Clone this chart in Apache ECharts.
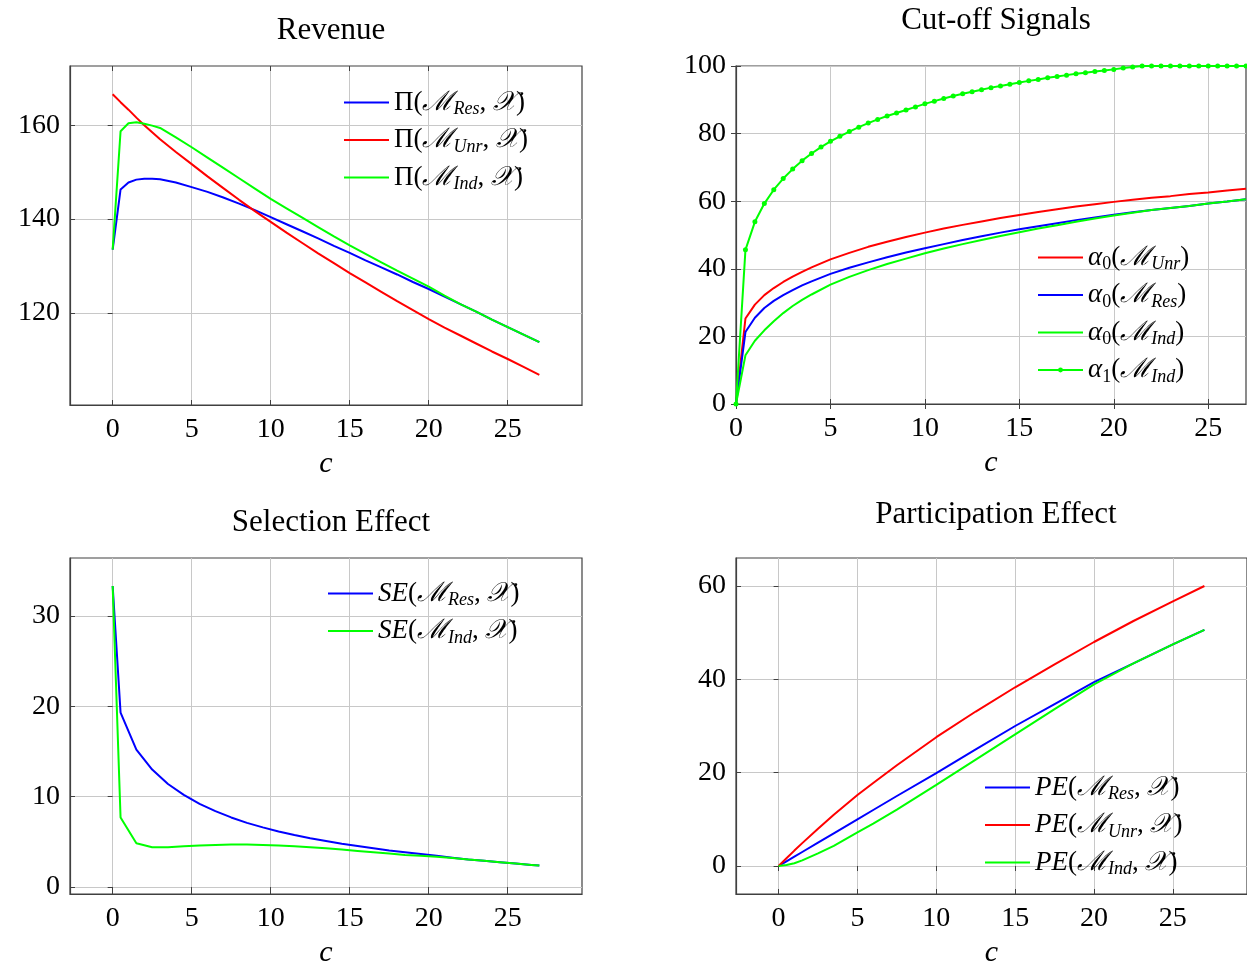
<!DOCTYPE html>
<html>
<head>
<meta charset="UTF-8">
<title>Revenue, cut-off signals, selection and participation effects</title>
<script src="https://cdn.jsdelivr.net/npm/echarts@6/dist/echarts.min.js"></script>
<style>
  html, body { margin: 0; padding: 0; background: #fff; }
  #chart { width: 1247px; height: 969px; }
</style>
</head>
<body>
<div id="chart"></div>
<script>
// ---- Revenue ----
var revX   = [0, 0.5, 1, 1.5, 2, 2.5, 3, 4, 5, 6, 7, 8, 9, 10, 11, 12, 13, 14, 15, 16, 17, 18, 19, 20, 21, 22, 23, 24, 25, 26, 27];
var revRes = [133.5, 146.3, 147.8, 148.4, 148.6, 148.6, 148.5, 147.8, 146.8, 145.8, 144.6, 143.3, 141.9, 140.4, 138.9, 137.4, 135.9, 134.3, 132.8, 131.2, 129.7, 128.2, 126.6, 125.1, 123.5, 121.9, 120.3, 118.6, 117.0, 115.4, 113.8];
var revUnr = [166.6, 164.9, 163.3, 161.6, 160.0, 158.5, 157.0, 154.3, 151.7, 149.1, 146.6, 144.1, 141.7, 139.4, 137.1, 134.9, 132.7, 130.6, 128.5, 126.5, 124.5, 122.5, 120.6, 118.7, 116.9, 115.2, 113.5, 111.8, 110.2, 108.5, 106.8];
var revInd = [133.5, 158.7, 160.4, 160.6, 160.3, 159.9, 159.4, 157.4, 155.3, 153.1, 150.9, 148.7, 146.5, 144.3, 142.3, 140.3, 138.3, 136.3, 134.4, 132.6, 130.8, 129.0, 127.3, 125.6, 123.7, 121.9, 120.3, 118.6, 117.0, 115.4, 113.8];

// ---- Cut-off Signals ----
var cutX    = [0, 0.5, 1, 1.5, 2, 2.5, 3, 3.5, 4, 5, 6, 7, 8, 9, 10, 11, 12, 13, 14, 15, 16, 17, 18, 19, 20, 21, 22, 23, 24, 25, 26, 27];
var a0Unr   = [0, 25.3, 29.4, 32.2, 34.3, 36.1, 37.7, 39.1, 40.4, 42.8, 44.7, 46.5, 48.0, 49.4, 50.7, 51.9, 53.0, 54.0, 55.0, 55.9, 56.8, 57.6, 58.4, 59.1, 59.8, 60.4, 61.0, 61.5, 62.1, 62.6, 63.2, 63.7];
var a0Res   = [0, 21.3, 25.5, 28.4, 30.5, 32.2, 33.7, 35.1, 36.3, 38.5, 40.3, 41.9, 43.4, 44.8, 46.1, 47.3, 48.5, 49.6, 50.7, 51.7, 52.6, 53.5, 54.4, 55.2, 56.0, 56.7, 57.4, 58.0, 58.6, 59.3, 59.9, 60.6];
var a0Ind   = [0, 14.4, 18.7, 21.8, 24.5, 26.9, 29.0, 30.8, 32.4, 35.3, 37.6, 39.6, 41.4, 43.0, 44.6, 46.0, 47.3, 48.5, 49.7, 50.8, 51.9, 52.9, 53.9, 54.9, 55.8, 56.6, 57.4, 58.0, 58.6, 59.3, 59.9, 60.6];
var a1X     = [0, 0.5, 1, 1.5, 2, 2.5, 3, 3.5, 4, 4.5, 5, 5.5, 6, 6.5, 7, 7.5, 8, 8.5, 9, 9.5, 10, 10.5, 11, 11.5, 12, 12.5, 13, 13.5, 14, 14.5, 15, 15.5, 16, 16.5, 17, 17.5, 18, 18.5, 19, 19.5, 20, 20.5, 21, 21.5, 22, 22.5, 23, 23.5, 24, 24.5, 25, 25.5, 26, 26.5, 27];
var a1Ind   = [0, 45.6, 53.9, 59.3, 63.4, 66.7, 69.5, 72.0, 74.1, 76.0, 77.7, 79.2, 80.6, 81.9, 83.1, 84.2, 85.2, 86.1, 87.0, 87.9, 88.8, 89.6, 90.4, 91.1, 91.8, 92.4, 93.0, 93.6, 94.1, 94.6, 95.1, 95.6, 96.0, 96.5, 96.9, 97.3, 97.7, 98.0, 98.4, 98.7, 99.0, 99.4, 99.7, 100, 100, 100, 100, 100, 100, 100, 100, 100, 100, 100, 100];

// ---- Selection Effect ----
var seX   = [0, 0.5, 1.5, 2.5, 3.5, 4.5, 5.5, 6.5, 7.5, 8.5, 9.5, 10.5, 11.5, 12.5, 13.5, 14.5, 15.5, 16.5, 17.5, 18.5, 19.5, 20.5, 21.5, 22.5, 23.5, 24.5, 25.5, 26.5, 27];
var seRes = [33.3, 19.3, 15.2, 13.0, 11.4, 10.2, 9.2, 8.4, 7.7, 7.1, 6.6, 6.15, 5.75, 5.4, 5.1, 4.8, 4.55, 4.3, 4.05, 3.85, 3.65, 3.45, 3.25, 3.05, 2.9, 2.75, 2.6, 2.45, 2.37];
var seInd = [33.3, 7.7, 4.85, 4.4, 4.4, 4.5, 4.6, 4.65, 4.7, 4.7, 4.65, 4.6, 4.5, 4.4, 4.3, 4.15, 4.0, 3.85, 3.7, 3.55, 3.45, 3.35, 3.2, 3.05, 2.9, 2.75, 2.6, 2.45, 2.37];

// ---- Participation Effect ----
var peX   = [0, 0.5, 1, 1.5, 2.5, 3.5, 5, 6, 7.5, 10, 12.5, 15, 17.5, 20, 22.5, 25, 27];
var peRes = [0, 1.0, 2.0, 3.0, 5.0, 7.0, 10.0, 12.0, 15.0, 19.9, 25.0, 30.0, 34.7, 39.4, 43.4, 47.5, 50.6];
var peUnr = [0, 1.65, 3.3, 4.9, 8.0, 11.0, 15.2, 17.8, 21.6, 27.6, 33.1, 38.3, 43.2, 48.0, 52.5, 56.7, 60.0];
var peInd = [0, 0.2, 0.6, 1.2, 2.7, 4.3, 7.2, 9.1, 12.1, 17.4, 22.8, 28.2, 33.6, 38.9, 43.4, 47.5, 50.6];

// tick labels
var cTicks   = [0, 5, 10, 15, 20, 25];
var revTicks = [120, 140, 160];
var cutTicks = [0, 20, 40, 60, 80, 100];
var seTicks  = [0, 10, 20, 30];
var peTicks  = [0, 20, 40, 60];

var SERIF = '"Liberation Serif", "DejaVu Serif", serif';
var FRAME = '#404040';
var GRIDC = '#c8c8c8';
var BLUE = '#0000ff', RED = '#ff0000', GREEN = '#00ff00';

function pairs(xs, ys) {
    return xs.map(function (x, i) { return [x, ys[i]]; });
}

// legend text, built as rich text
var rich = {
    t:  { fontFamily: SERIF, fontSize: 27, lineHeight: 32, color: '#000' },
    i:  { fontFamily: SERIF, fontSize: 27, lineHeight: 32, fontStyle: 'italic', color: '#000' },
    m:  { fontFamily: SERIF, fontSize: 27, lineHeight: 32, fontStyle: 'italic', color: '#000' },
    s:  { fontFamily: SERIF, fontSize: 18, lineHeight: 16, fontStyle: 'italic', verticalAlign: 'bottom', color: '#000' },
    n:  { fontFamily: SERIF, fontSize: 18, lineHeight: 16, verticalAlign: 'bottom', color: '#000' }
};
function lbl(head, headSub, model, withX) {
    var s = head;
    if (headSub) s += '{n|' + headSub + '}';
    s += '{t|(}{m|ℳ}{s|' + model + '}';
    if (withX) s += '{t|, }{m|𝒳}';
    return s + '{t|)}';
}
var names = {
    revRes: lbl('{t|Π}', '', 'Res', true),
    revUnr: lbl('{t|Π}', '', 'Unr', true),
    revInd: lbl('{t|Π}', '', 'Ind', true),
    a0Unr:  lbl('{i|α}', '0', 'Unr', false),
    a0Res:  lbl('{i|α}', '0', 'Res', false),
    a0Ind:  lbl('{i|α}', '0', 'Ind', false),
    a1Ind:  lbl('{i|α}', '1', 'Ind', false),
    seRes:  lbl('{i|SE}', '', 'Res', true),
    seInd:  lbl('{i|SE}', '', 'Ind', true),
    peRes:  lbl('{i|PE}', '', 'Res', true),
    peUnr:  lbl('{i|PE}', '', 'Unr', true),
    peInd:  lbl('{i|PE}', '', 'Ind', true)
};

function xAxes(g, min, max) {
    return [{
        type: 'value', gridIndex: g, min: min, max: max, position: 'bottom',
        name: 'c', nameLocation: 'middle', nameGap: 44,
        nameTextStyle: { fontFamily: SERIF, fontStyle: 'italic', fontSize: 30, color: '#000' },
        axisLine: { show: true, onZero: false, lineStyle: { color: FRAME, width: 1.2 } },
        axisTick: { show: true, inside: true, length: 5, customValues: cTicks, lineStyle: { color: FRAME } },
        axisLabel: { fontFamily: SERIF, fontSize: 28, color: '#000', margin: 11, customValues: cTicks },
        splitLine: { show: true, lineStyle: { color: GRIDC, width: 1 } }
    }, {
        type: 'value', gridIndex: g, min: min, max: max, position: 'top',
        axisLine: { show: false },
        axisTick: { show: true, inside: true, length: 5, customValues: cTicks, lineStyle: { color: FRAME } },
        axisLabel: { show: false },
        splitLine: { show: false }
    }];
}
function yAxes(g, min, max, ticks) {
    return [{
        type: 'value', gridIndex: g, min: min, max: max, position: 'left',
        axisLine: { show: true, onZero: false, lineStyle: { color: FRAME, width: 1.2 } },
        axisTick: { show: true, inside: true, length: 5, customValues: ticks, lineStyle: { color: FRAME } },
        axisLabel: { fontFamily: SERIF, fontSize: 28, color: '#000', margin: 10, customValues: ticks },
        splitLine: { show: true, lineStyle: { color: GRIDC, width: 1 } }
    }, {
        type: 'value', gridIndex: g, min: min, max: max, position: 'right',
        axisLine: { show: false },
        axisTick: { show: true, inside: true, length: 5, customValues: ticks, lineStyle: { color: FRAME } },
        axisLabel: { show: false },
        splitLine: { show: false }
    }];
}

function line(key, g, xs, ys, color, marked) {
    return {
        name: key, type: 'line', xAxisIndex: 2 * g, yAxisIndex: 2 * g,
        data: pairs(xs, ys),
        symbol: marked ? 'circle' : 'none', symbolSize: 5, showSymbol: !!marked,
        lineStyle: { color: color, width: 2 },
        itemStyle: { color: color },
        animation: false
    };
}

// only the marked series keeps its dot in the legend
var marked = { a1Ind: true };
function legend(keys, left, top) {
    return {
        data: keys.map(function (k) {
            return marked[k] ? { name: k } : { name: k, itemStyle: { opacity: 0 } };
        }),
        left: left, top: top, orient: 'vertical',
        itemWidth: 45, itemHeight: 6, itemGap: 8, selectedMode: false,
        formatter: function (n) { return names[n]; },
        textStyle: { rich: rich }
    };
}

function title(text, x, y) {
    return {
        text: text, left: x, top: y, textAlign: 'center',
        textStyle: { fontFamily: SERIF, fontSize: 31, fontWeight: 'normal', color: '#000' }
    };
}

var gridBox = { show: true, borderColor: FRAME, borderWidth: 1.2, backgroundColor: 'transparent' };

var option = {
    backgroundColor: '#fff',
    title: [
        title('Revenue', 326, 10),
        title('Cut-off Signals', 991, 0),
        title('Selection Effect', 326, 502),
        title('Participation Effect', 991, 494)
    ],
    grid: [
        Object.assign({ left: 70, top: 66, width: 512, height: 339 }, gridBox),
        Object.assign({ left: 736, top: 66, width: 510, height: 338 }, gridBox),
        Object.assign({ left: 70, top: 558, width: 512, height: 339 }, gridBox),
        Object.assign({ left: 736, top: 558, width: 512, height: 339 }, gridBox)
    ],
    xAxis: [].concat(
        xAxes(0, -2.7, 29.7),
        xAxes(1, 0, 27),
        xAxes(2, -2.7, 29.7),
        xAxes(3, -2.7, 29.7)
    ),
    yAxis: [].concat(
        yAxes(0, 100.4, 172.6, revTicks),
        yAxes(1, 0, 100, cutTicks),
        yAxes(2, -0.77, 36.4, seTicks),
        yAxes(3, -6, 66, peTicks)
    ),
    legend: [
        legend(['revRes', 'revUnr', 'revInd'], 338, 84),
        legend(['a0Unr', 'a0Res', 'a0Ind', 'a1Ind'], 1032, 239),
        legend(['seRes', 'seInd'], 322, 575),
        legend(['peRes', 'peUnr', 'peInd'], 979, 769)
    ],
    series: [
        line('revRes', 0, revX, revRes, BLUE),
        line('revUnr', 0, revX, revUnr, RED),
        line('revInd', 0, revX, revInd, GREEN),
        line('a0Unr', 1, cutX, a0Unr, RED),
        line('a0Res', 1, cutX, a0Res, BLUE),
        line('a0Ind', 1, cutX, a0Ind, GREEN),
        line('a1Ind', 1, a1X, a1Ind, GREEN, true),
        line('seRes', 2, seX, seRes, BLUE),
        line('seInd', 2, seX, seInd, GREEN),
        line('peRes', 3, peX, peRes, BLUE),
        line('peUnr', 3, peX, peUnr, RED),
        line('peInd', 3, peX, peInd, GREEN)
    ]
};

var myChart = echarts.init(document.getElementById('chart'));
myChart.setOption(option);
</script>
</body>
</html>
